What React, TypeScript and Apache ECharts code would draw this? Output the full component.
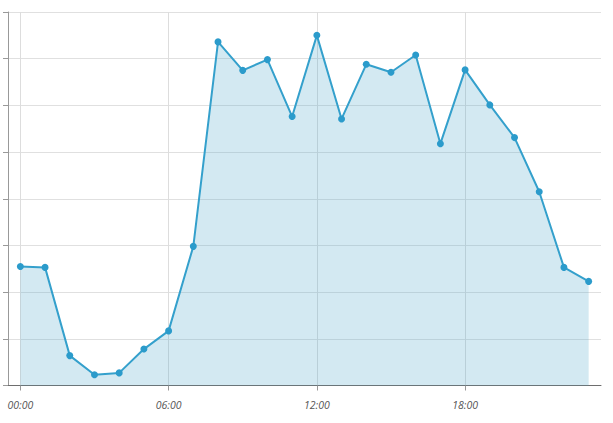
import React, { useEffect, useRef } from "react";
import * as echarts from "echarts";

const hours: string[] = [
  "00:00", "01:00", "02:00", "03:00", "04:00", "05:00", "06:00", "07:00",
  "08:00", "09:00", "10:00", "11:00", "12:00", "13:00", "14:00", "15:00",
  "16:00", "17:00", "18:00", "19:00", "20:00", "21:00", "22:00", "23:00",
];

const values: number[] = [
  2.55, 2.53, 0.64, 0.23, 0.27, 0.78, 1.17, 2.98,
  7.36, 6.75, 6.98, 5.76, 7.5, 5.71, 6.88, 6.71,
  7.08, 5.18, 6.76, 6.01, 5.31, 4.15, 2.53, 2.23,
];

const yMin = 0;
const yMax = 8;
const yStep = 1;

export default function App() {
  const ref = useRef<HTMLDivElement>(null);
  useEffect(() => {
    if (!ref.current) return;
    const chart = echarts.init(ref.current, undefined, { renderer: "svg" });
    chart.setOption({
      animation: false,
      grid: { left: 8, right: 12, top: 12, bottom: 37.5, containLabel: false },
      xAxis: {
        type: "category",
        data: hours,
        boundaryGap: true,
        axisLine: { show: true, lineStyle: { color: "#6e6e6e", width: 1 } },
        axisTick: { show: true, alignWithLabel: true, interval: 5, length: 5, lineStyle: { color: "#999" } },
        axisLabel: {
          interval: 5,
          fontStyle: "italic",
          fontFamily: "Open Sans",
          fontSize: 10.5,
          color: "#555",
          margin: 14,
        },
        splitLine: {
          show: true,
          interval: 5,
          alignWithLabel: true,
          lineStyle: { color: "#ddd", width: 1 },
        },
      },
      yAxis: {
        type: "value",
        min: yMin,
        max: yMax,
        interval: yStep,
        axisLine: { show: true, lineStyle: { color: "#999", width: 1 } },
        axisTick: { show: true, length: 5, lineStyle: { color: "#999" } },
        axisLabel: { show: false },
        splitLine: { show: true, lineStyle: { color: "#e0e0e0", width: 1 } },
      },
      series: [
        {
          type: "line",
          data: values,
          symbol: "circle",
          symbolSize: 7,
          showSymbol: true,
          itemStyle: { color: "#2b9bcb" },
          lineStyle: { color: "#34a0cc", width: 2 },
          areaStyle: { color: "rgba(79,167,203,0.25)", opacity: 1, origin: "start" },
        },
      ],
    });
    return () => chart.dispose();
  }, []);
  return <div ref={ref} style={{ width: 613, height: 423, position: "absolute", left: 0, top: 0 }} />;
}
